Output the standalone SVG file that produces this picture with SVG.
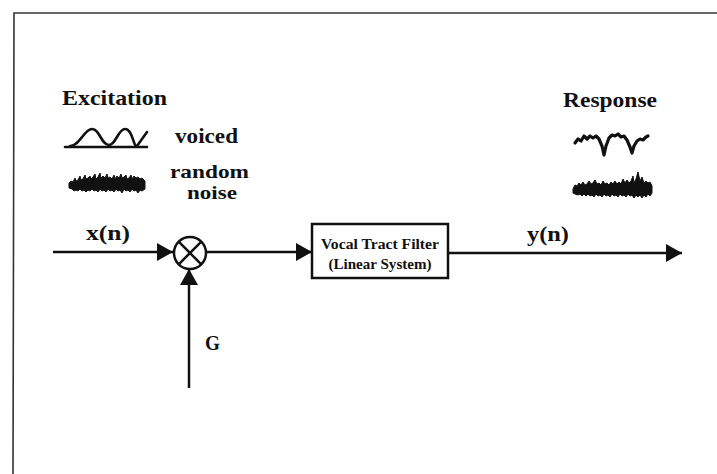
<svg xmlns="http://www.w3.org/2000/svg" width="717" height="474" viewBox="0 0 717 474">
  <style>
    text { font-family: "Liberation Serif", "Times New Roman", serif; font-weight: bold; fill: #111; }
    .lbl { font-size: 21px; }
    .leg { font-size: 19px; }
    .small { font-size: 14px; }
    .wire { stroke: #111; stroke-width: 2.5; fill: none; }
    .wave { stroke: #111; stroke-width: 2.6; fill: none; stroke-linejoin: round; stroke-linecap: round; }
    .noise { fill: #111; stroke: #111; stroke-width: 1; stroke-linejoin: round; }
  </style>
  <defs>
    <marker id="arrow" viewBox="0 0 16 18" refX="16" refY="9" markerWidth="16" markerHeight="18" markerUnits="userSpaceOnUse" orient="auto">
      <path d="M0,0 L16,9 L0,18 Z" fill="#111"/>
    </marker>
  </defs>

  <rect width="717" height="474" fill="#fff"/>

  <!-- slide frame -->
  <path d="M717,13 L14,13 L13,474" fill="none" stroke="#333" stroke-width="1.6"/>

  <!-- excitation legend -->
  <g id="excitation">
    <text class="lbl" x="62" y="105" textLength="105" lengthAdjust="spacingAndGlyphs">Excitation</text>
    <path class="wave" d="M65,147 L147,147"/>
    <path class="wave" d="M70,146 C80,146 84,129 92,129 C100,129 101,145 109,145 C116,145 118,129 125,129 C133,129 133,147 137,146 L147,132"/>
    <text class="lbl" x="175" y="143" textLength="63" lengthAdjust="spacingAndGlyphs">voiced</text>
    <polygon class="noise" points="69,183 71,181 73,182 75,178 76,181 78,180 80,176 81,180 83,179 85,175 86,179 88,178 90,176 91,179 93,177 95,174 96,179 98,177 100,173 101,178 103,176 105,178 107,174 108,178 110,177 112,179 114,175 115,179 117,176 119,178 121,174 122,178 124,177 126,175 127,179 129,178 131,175 132,179 134,176 136,178 138,177 140,179 142,178 145,181 145,189 142,191 140,190 138,193 136,190 134,191 132,189 130,192 128,190 126,191 124,189 122,193 120,190 118,191 116,189 114,192 112,190 110,191 108,189 106,192 104,190 102,191 100,189 98,192 96,190 94,191 92,189 90,191 88,190 86,192 84,190 82,191 80,189 78,191 76,190 74,191 72,189 69,188"/>
    <text class="leg" x="170" y="177.5" textLength="79" lengthAdjust="spacingAndGlyphs">random</text>
    <text class="leg" x="187" y="199" textLength="50" lengthAdjust="spacingAndGlyphs">noise</text>
  </g>

  <!-- response legend -->
  <g id="response">
    <text class="lbl" x="563" y="107" textLength="94" lengthAdjust="spacingAndGlyphs">Response</text>
    <polyline class="wave" style="stroke-width:3.2" points="575,143 578,139 581,141 584,136 587,139 590,136 593,138 596,136 599,139 602,146 604,155 606,146 609,138 612,135 615,136 618,134 621,137 624,136 627,140 630,147 632,153 634,146 637,141 640,139 643,140 646,137 648,136"/>
    <polygon class="noise" points="573,189 575,185 577,186 579,183 581,185 583,182 585,185 587,184 589,181 591,184 593,183 595,180 597,184 599,183 601,185 603,181 605,184 607,183 609,185 611,182 613,184 615,181 617,184 619,182 621,184 623,179 625,183 627,180 629,183 631,181 633,176 634,183 636,179 638,172 640,181 642,177 644,183 646,181 648,183 650,182 652,186 652,193 650,196 648,194 646,197 644,195 642,198 640,195 638,197 636,195 634,198 632,195 630,196 628,194 626,197 624,195 622,196 620,194 618,197 616,195 614,196 612,194 610,197 608,195 606,196 604,194 602,197 600,195 598,196 596,194 594,197 592,195 590,196 588,194 586,196 584,194 582,196 580,194 578,195 575,194 573,193"/>
  </g>

  <!-- multiplier -->
  <g id="multiplier">
    <circle cx="190" cy="253" r="16" fill="#fff" stroke="#111" stroke-width="2.5"/>
    <path d="M178.7,241.7 L201.3,264.3 M201.3,241.7 L178.7,264.3" stroke="#111" stroke-width="2.5"/>
  </g>

  <!-- filter block -->
  <g id="filter">
    <rect x="312" y="224" width="136" height="54" fill="#fff" stroke="#111" stroke-width="2.5"/>
    <text class="small" x="380" y="249" text-anchor="middle" textLength="118" lengthAdjust="spacingAndGlyphs">Vocal Tract Filter</text>
    <text class="small" x="380" y="269" text-anchor="middle" textLength="103" lengthAdjust="spacingAndGlyphs">(Linear System)</text>
  </g>

  <!-- signal paths -->
  <g id="connectors">
    <line class="wire" x1="53" y1="252" x2="173" y2="252" marker-end="url(#arrow)"/>
    <line class="wire" x1="189" y1="388" x2="189" y2="269" marker-end="url(#arrow)"/>
    <line class="wire" x1="206" y1="252" x2="312" y2="252" marker-end="url(#arrow)"/>
    <line class="wire" x1="448" y1="253" x2="682" y2="253" marker-end="url(#arrow)"/>
  </g>

  <!-- signal labels -->
  <g id="labels">
    <text class="lbl" x="108" y="240" text-anchor="middle" textLength="44" lengthAdjust="spacingAndGlyphs">x(n)</text>
    <text class="lbl" x="205" y="350" textLength="15" lengthAdjust="spacingAndGlyphs">G</text>
    <text class="lbl" x="548" y="241" text-anchor="middle" textLength="42" lengthAdjust="spacingAndGlyphs">y(n)</text>
  </g>
</svg>
